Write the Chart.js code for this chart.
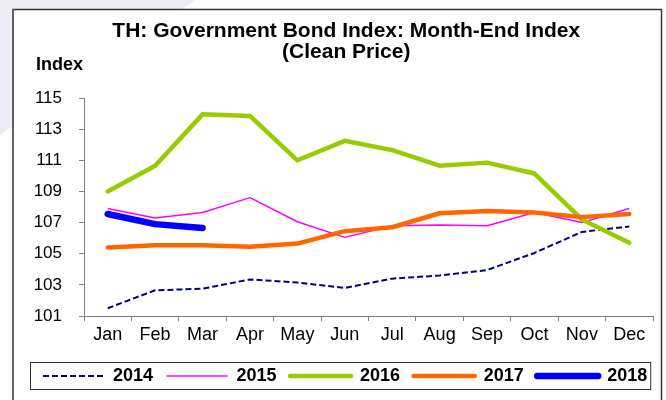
<!DOCTYPE html>
<html>
<head>
<meta charset="utf-8">
<script src="https://cdn.jsdelivr.net/npm/chart.js@4"></script>
<style>
  html, body { margin: 0; padding: 0; background: #ffffff; }
  canvas { display: block; }
</style>
</head>
<body>
<canvas id="bondChart" width="666" height="400"></canvas>
<script>
// TH government bond index, month-end clean price
const months = ['Jan', 'Feb', 'Mar', 'Apr', 'May', 'Jun', 'Jul', 'Aug', 'Sep', 'Oct', 'Nov', 'Dec'];
const years = ['2014', '2015', '2016', '2017', '2018'];

const idx2014 = [101.5, 102.65, 102.75, 103.35, 103.15, 102.8, 103.4, 103.6, 103.95, 105.05, 106.4, 106.75];
const idx2015 = [107.9, 107.3, 107.65, 108.6, 107.05, 106.05, 106.8, 106.85, 106.8, 107.65, 107.0, 107.9];
const idx2016 = [109.0, 110.65, 113.95, 113.85, 111.0, 112.25, 111.65, 110.65, 110.85, 110.15, 107.2, 105.7];
const idx2017 = [105.4, 105.55, 105.55, 105.45, 105.65, 106.45, 106.7, 107.6, 107.75, 107.65, 107.35, 107.55];
const idx2018 = [107.55, 106.9, 106.65];

const yTicks = [101, 103, 105, 107, 109, 111, 113, 115];

const FONT = 'Arial, "Liberation Sans", sans-serif';
const AXIS_GREY = '#808080';

// slide background, outer frame, "Index" label and the box round the legend
const framePlugin = {
  id: 'frame',
  beforeDraw(chart) {
    const ctx = chart.ctx;
    ctx.save();
    ctx.fillStyle = '#ececf6';
    ctx.beginPath();
    ctx.moveTo(0, 0);
    ctx.lineTo(195, 0);
    ctx.lineTo(0, 135);
    ctx.closePath();
    ctx.fill();
    ctx.fillStyle = '#ffffff';
    ctx.fillRect(13, 9, 649, 400);
    ctx.strokeStyle = '#333333';
    ctx.lineWidth = 1.5;
    ctx.beginPath();
    ctx.moveTo(13, 401);
    ctx.lineTo(13, 9.5);
    ctx.lineTo(661.5, 9.5);
    ctx.lineTo(661.5, 401);
    ctx.stroke();
    ctx.restore();
  },
  afterDraw(chart) {
    const ctx = chart.ctx;
    ctx.save();
    ctx.fillStyle = '#000000';
    ctx.font = 'bold 18px ' + FONT;
    ctx.textBaseline = 'alphabetic';
    ctx.fillText('Index', 36, 70);

    const boxes = chart.legend.legendHitBoxes;
    if (boxes && boxes.length) {
      const first = boxes[0];
      const last = boxes[boxes.length - 1];
      ctx.strokeStyle = '#333333';
      ctx.lineWidth = 1;
      ctx.strokeRect(first.left - 12.5, first.top - 4.5, last.left + last.width - first.left + 16, first.height + 9);
    }
    ctx.restore();
  }
};

// point-style legend items drop the line dash, put it back from the dataset
function legendLabels(chart) {
  const items = Chart.defaults.plugins.legend.labels.generateLabels(chart);
  items.forEach(item => {
    const ds = chart.data.datasets[item.datasetIndex];
    item.lineDash = ds.borderDash || [];
    item.lineCap = ds.borderCapStyle || 'butt';
    item.lineWidth = ds.borderWidth;
  });
  return items.sort((a, b) => a.datasetIndex - b.datasetIndex);
}

const ctx = document.getElementById('bondChart');

new Chart(ctx, {
  type: 'line',
  data: {
    labels: months,
    datasets: [
      {
        label: years[0],
        data: idx2014,
        borderColor: '#000080',
        borderWidth: 2,
        borderDash: [6, 3],
        borderCapStyle: 'butt',
        order: 5
      },
      {
        label: years[1],
        data: idx2015,
        borderColor: '#ff00ff',
        borderWidth: 1.5,
        order: 4
      },
      {
        label: years[2],
        data: idx2016,
        borderColor: '#99cc00',
        borderWidth: 4.5,
        borderCapStyle: 'round',
        order: 3
      },
      {
        label: years[3],
        data: idx2017,
        borderColor: '#ff6600',
        borderWidth: 4.5,
        borderCapStyle: 'round',
        order: 2
      },
      {
        label: years[4],
        data: idx2018,
        borderColor: '#0000ff',
        borderWidth: 6.5,
        borderCapStyle: 'round',
        order: 1
      }
    ]
  },
  options: {
    responsive: false,
    animation: false,
    devicePixelRatio: 1,
    elements: {
      point: { radius: 0, hoverRadius: 0 },
      line: { tension: 0, fill: false, borderJoinStyle: 'round' }
    },
    layout: { padding: { left: 29.5, right: 3, top: 0, bottom: 5 } },
    plugins: {
      title: {
        display: true,
        text: ['TH: Government Bond Index: Month-End Index', '(Clean Price)'],
        color: '#000000',
        font: { family: FONT, size: 21, weight: 'bold', lineHeight: 1.0 },
        padding: { top: 21, bottom: 35 }
      },
      legend: {
        position: 'bottom',
        align: 'start',
        labels: {
          color: '#000000',
          font: { family: FONT, size: 18, weight: 'bold' },
          usePointStyle: true,
          pointStyle: 'line',
          pointStyleWidth: 61,
          padding: 13.5,
          generateLabels: legendLabels
        }
      },
      tooltip: { enabled: false }
    },
    scales: {
      x: {
        offset: true,
        grid: { offset: true, drawOnChartArea: false, tickLength: 5, color: AXIS_GREY },
        border: { color: AXIS_GREY, width: 1 },
        ticks: { color: '#000000', font: { family: FONT, size: 18 }, padding: 3, maxRotation: 0 },
        afterFit(scale) { scale.height = 37.5; }
      },
      y: {
        min: 101,
        max: 115,
        afterBuildTicks(scale) { scale.ticks = yTicks.map(v => ({ value: v })); },
        grid: { drawOnChartArea: false, tickLength: 5, color: AXIS_GREY },
        border: { color: AXIS_GREY, width: 1 },
        ticks: { color: '#000000', font: { family: FONT, size: 17 }, padding: 17 },
        afterFit(scale) { scale.width = 54.5; }
      },
      yRight: {
        position: 'right',
        display: true,
        grid: { display: false },
        border: { display: false },
        ticks: { display: false },
        afterFit(scale) { scale.width = 10; }
      }
    }
  },
  plugins: [framePlugin]
});
</script>
</body>
</html>
